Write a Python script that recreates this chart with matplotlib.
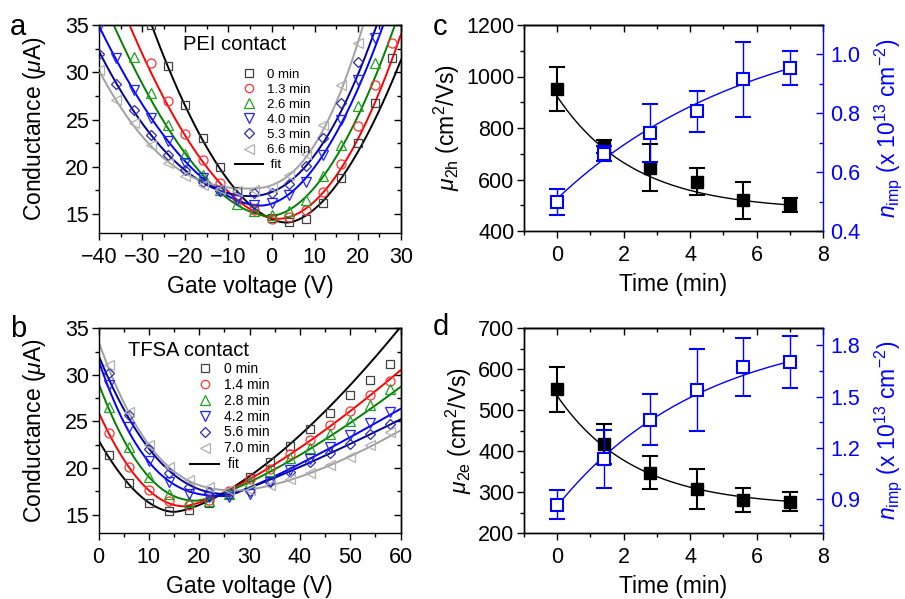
import numpy as np
import matplotlib
matplotlib.use('Agg')
import matplotlib.pyplot as plt
from matplotlib.ticker import MultipleLocator
from matplotlib.lines import Line2D

plt.rcParams['font.family'] = ['Liberation Sans', 'DejaVu Sans']
plt.rcParams['mathtext.fontset'] = 'custom'
plt.rcParams['mathtext.rm'] = 'Liberation Sans'
plt.rcParams['mathtext.it'] = 'Liberation Sans:italic'
plt.rcParams['axes.linewidth'] = 1.0

# ---------------- panel a: PEI contact ----------------
Va = [-40, -36, -32, -28, -24, -20, -16, -12, -8, -4, 0, 4, 8, 12, 16, 20, 24, 28]
nan = np.nan
Ga = [
    [nan, nan, nan, 35.0, 30.7, 26.5, 23.0, 20.0, 17.4, 15.6, 14.6, 14.2, 14.5, 16.2, 18.8, 22.5, 26.8, 31.5],
    [nan, nan, nan, 31.0, 27.0, 23.5, 20.7, 18.3, 16.7, 15.4, 14.5, 14.7, 15.4, 17.3, 20.3, 24.3, 28.7, 33.1],
    [nan, nan, 31.6, 27.8, 24.4, 21.4, 19.1, 17.5, 16.1, 15.3, 14.9, 15.3, 16.5, 19.0, 22.3, 26.4, 31.0, nan],
    [34.8, 31.5, 28.1, 25.2, 22.7, 20.4, 18.8, 17.4, 16.5, 16.0, 16.2, 17.0, 18.4, 21.3, 25.0, 29.2, 33.6, nan],
    [31.9, 28.8, 26.0, 23.4, 21.3, 19.7, 18.4, 17.4, 16.9, 17.2, 17.2, 18.2, 20.1, 23.0, 26.7, 31.1, nan, nan],
    [30.2, 27.1, 24.6, 22.3, 20.4, 19.0, 18.1, 17.7, 17.4, 17.6, 17.9, 19.1, 21.4, 24.4, 28.7, 33.1, nan, nan],
]
times_a = ['0 min', '1.3 min', '2.6 min', '4.0 min', '5.3 min', '6.6 min']
# fit parameters: V0, Gmin, left amp, left power, right amp, right power
fit_a = [
    [3.5, 14.1, 0.037, 1.84, 0.0538, 1.76],
    [1.5, 14.5, 0.0351, 1.80, 0.029, 1.944],
    [-0.5, 14.8, 0.030, 1.816, 0.0384, 1.859],
    [-2.5, 15.9, 0.0241, 1.84, 0.0355, 1.879],
    [-5.0, 16.9, 0.01084, 2.04, 0.01396, 2.12],
    [-5.0, 17.7, 0.00229, 2.42, 0.008, 2.35],
]

# ---------------- panel b: TFSA contact ----------------
Vb = [2, 6, 10, 14, 18, 22, 26, 30, 34, 38, 42, 46, 50, 54, 58]
Gb = [
    [21.45, 18.4, 16.3, 15.4, 15.5, 16.2, 17.2, 19.0, 20.65, 22.4, 24.2, 25.9, 27.8, 29.5, 31.2],
    [23.8, 20.1, 17.6, 16.5, 16.0, 16.6, 17.5, 18.8, 19.95, 21.5, 23.0, 24.6, 26.1, 27.8, 29.3],
    [26.6, 22.3, 19.05, 17.25, 16.4, 16.5, 17.2, 18.5, 19.65, 21.1, 22.2, 23.7, 25.1, 26.75, 28.5],
    [28.9, 24.4, 20.8, 18.5, 17.25, 16.9, 16.9, 17.25, 18.5, 19.8, 21.0, 22.3, 23.5, 24.8, 26.0],
    [30.2, 25.7, 22.1, 19.5, 18.0, 17.4, 17.4, 17.5, 18.5, 19.6, 20.6, 21.6, 22.6, 23.7, 24.7],
    [31.05, 26.0, 22.45, 20.1, 18.7, 18.0, 17.6, 17.6, 18.2, 18.8, 19.5, 20.3, 21.2, 22.45, 23.9],
]
times_b = ['0 min', '1.4 min', '2.8 min', '4.2 min', '5.6 min', '7.0 min']
fit_b = [
    [15.0, 15.3, 0.05, 1.86, 0.0657, 1.5],
    [17.0, 15.9, 0.035, 2.0, 0.091, 1.35],
    [19.5, 16.5, 0.01725, 2.22, 0.0856, 1.34],
    [25.5, 17.0, 0.00185, 2.77, 0.1594, 1.15],
    [26.0, 17.2, 0.00857, 2.29, 0.144, 1.14],
    [28.0, 17.6, 0.00212, 2.68, 0.0344, 1.51],
]

# ---------------- panels c, d ----------------
t = [0, 1.4, 2.8, 4.2, 5.6, 7.0]
mu2h = [950, 727, 646, 592, 520, 500]
mu2h_err = [85, 25, 90, 52, 72, 28]
nimp_c = [0.499, 0.663, 0.733, 0.807, 0.915, 0.954]
nimp_c_err = [0.043, 0.025, 0.10, 0.07, 0.127, 0.057]
mu2e = [551, 418, 348, 308, 281, 277]
mu2e_err = [55, 48, 40, 48, 30, 23]
nimp_d = [0.867, 1.136, 1.365, 1.539, 1.674, 1.703]
nimp_d_err = [0.085, 0.17, 0.15, 0.24, 0.17, 0.15]
# exponential fits: A, B, tau
fit_mu_c = [480, 442, 2.3]
fit_n_c = [1.153, 0.643, 6.0]
fit_mu_d = [265, 270, 2.3]
fit_n_d = [1.9225, 1.0625, 4.4]

line_cols = ['black', 'red', '#008000', 'blue', '#000099', '#a0a0a0']
mark_cols = ['#404040', '#ff3333', '#22a022', '#2222ff', '#2a2aa8', '#b0b0b0']
markers = ['s', 'o', '^', 'v', 'D', '<']
msizes = [6, 6.5, 7, 7, 5.5, 7]

TICK = 15.5
LAB = 16.5


def gcurve(v, p):
    v0, gmin, al, pl, ar, pr = p
    d = v - v0
    return gmin + np.where(d < 0, al * np.abs(d) ** pl, ar * np.abs(d) ** pr)


def style(ax, xmaj, xmin, ymaj, ymin, right=True):
    ax.xaxis.set_major_locator(MultipleLocator(xmaj))
    ax.xaxis.set_minor_locator(MultipleLocator(xmin))
    ax.yaxis.set_major_locator(MultipleLocator(ymaj))
    ax.yaxis.set_minor_locator(MultipleLocator(ymin))
    ax.tick_params(which='both', direction='out', labelsize=TICK, width=1)
    ax.tick_params(axis='x', pad=5)
    ax.tick_params(axis='y', pad=2)
    ax.tick_params(which='major', length=5)
    ax.tick_params(which='minor', length=3)
    top = ax.secondary_xaxis('top')
    top.xaxis.set_major_locator(MultipleLocator(xmaj))
    top.xaxis.set_minor_locator(MultipleLocator(xmin))
    top.tick_params(which='both', direction='in', labeltop=False, width=1)
    top.tick_params(which='major', length=5)
    top.tick_params(which='minor', length=3)
    if right:
        r = ax.secondary_yaxis('right')
        r.yaxis.set_major_locator(MultipleLocator(ymaj))
        r.yaxis.set_minor_locator(MultipleLocator(ymin))
        r.tick_params(which='both', direction='in', labelright=False, width=1)
        r.tick_params(which='major', length=5)
        r.tick_params(which='minor', length=3)


fig = plt.figure(figsize=(9.05, 5.99), dpi=100)
axa = fig.add_axes([99 / 905, 1 - 233 / 599, 302 / 905, 208 / 599])
axb = fig.add_axes([98.5 / 905, 1 - 533.3 / 599, 302 / 905, 205 / 599])
axc = fig.add_axes([524 / 905, 1 - 231 / 599, 299 / 905, 206 / 599])
axd = fig.add_axes([524 / 905, 1 - 533.3 / 599, 299 / 905, 205 / 599])


def gate_panel(ax, V, G, fits, times, xlim, title, tpos, legpos, legfs, legsp):
    vv = np.linspace(xlim[0], xlim[1], 400)
    for i in range(len(G)):
        ax.plot(vv, gcurve(vv, fits[i]), color=line_cols[i], lw=1.4, zorder=2)
    for i in range(len(G)):
        ax.plot(V, G[i], ls='none', marker=markers[i], ms=msizes[i], mfc='none',
                mec=mark_cols[i], mew=0.9, zorder=3, clip_on=True)
    ax.set_xlim(*xlim)
    ax.set_ylim(13, 35)
    style(ax, 10, 5, 5, 2.5)
    ax.set_xlabel('Gate voltage (V)', fontsize=LAB, labelpad=5)
    ax.set_ylabel(r'Conductance ($\mu$A)', fontsize=LAB, labelpad=12)
    ax.text(tpos[0], tpos[1], title, transform=ax.transAxes, fontsize=14.5,
            ha='center', va='center')
    handles = [Line2D([], [], ls='none', marker=markers[i], ms=msizes[i] - 0.5, mfc='none',
                      mec=mark_cols[i], mew=0.9) for i in range(len(G))]
    handles.append(Line2D([], [], color='black', lw=1.4))
    ax.legend(handles, times + [' fit'], loc='upper left', bbox_to_anchor=legpos,
              frameon=False, fontsize=legfs, handlelength=2.1, handletextpad=0.35,
              labelspacing=legsp, borderpad=0, borderaxespad=0)


gate_panel(axa, Va, Ga, fit_a, times_a, (-40, 30), 'PEI contact', (0.45, 0.904),
           (0.45, 0.792), 9.5, 0.22)
gate_panel(axb, Vb, Gb, fit_b, times_b, (0, 60), 'TFSA contact', (0.298, 0.894),
           (0.303, 0.837), 10, 0.14)


def time_panel(ax, mu, mu_err, n, n_err, fmu, fn, ylim, ymaj, ymin, rlim, rmaj, rmin, ylab):
    tt = np.linspace(0, 7, 200)
    ax.plot(tt, fmu[0] + fmu[1] * np.exp(-tt / fmu[2]), color='black', lw=1.0, zorder=2)
    ax.errorbar(t, mu, yerr=mu_err, fmt='s', color='black', ms=9, elinewidth=1.5,
                capsize=5.5, capthick=1.5, zorder=3)
    ax.set_xlim(-1, 8)
    ax.set_ylim(*ylim)
    style(ax, 2, 1, ymaj, ymin, right=False)
    ax.spines['right'].set_visible(False)
    ax.set_xlabel('Time (min)', fontsize=LAB, labelpad=5)
    ax.set_ylabel(ylab, fontsize=LAB, labelpad=3)
    ax2 = ax.twinx()
    ax2.plot(tt, fn[0] - fn[1] * np.exp(-tt / fn[2]), color='blue', lw=1.0, zorder=2)
    ax2.errorbar(t, n, yerr=n_err, fmt='s', color='blue', mfc='white', mec='blue',
                 ms=9, mew=1.5, elinewidth=1.0, capsize=5.5, capthick=1.0, zorder=3)
    ax2.set_ylim(*rlim)
    ax2.yaxis.set_major_locator(MultipleLocator(rmaj))
    ax2.yaxis.set_minor_locator(MultipleLocator(rmin))
    ax2.tick_params(which='both', direction='in', labelsize=TICK, colors='blue', width=1, pad=5)
    ax2.tick_params(which='major', length=5)
    ax2.tick_params(which='minor', length=3)
    ax2.spines['right'].set_color('blue')
    ax2.set_ylabel(r'$n_{\mathrm{imp}}$ (x 10$^{13}$ cm$^{-2}$)', color='blue', fontsize=LAB,
                   labelpad=9)
    return ax2


time_panel(axc, mu2h, mu2h_err, nimp_c, nimp_c_err, fit_mu_c, fit_n_c,
           (400, 1200), 200, 100, (0.4, 1.1), 0.2, 0.1,
           r'$\mu_{\mathrm{2h}}$ (cm$^{2}$/Vs)')
time_panel(axd, mu2e, mu2e_err, nimp_d, nimp_d_err, fit_mu_d, fit_n_d,
           (200, 700), 100, 50, (0.7, 1.9), 0.3, 0.15,
           r'$\mu_{\mathrm{2e}}$ (cm$^{2}$/Vs)')

for lab, x, y in [('a', 10, 35), ('b', 10, 337), ('c', 433, 35), ('d', 433, 335)]:
    fig.text(x / 905, 1 - y / 599, lab, fontsize=21, ha='left', va='baseline')

fig.savefig('out.png', dpi=100)
